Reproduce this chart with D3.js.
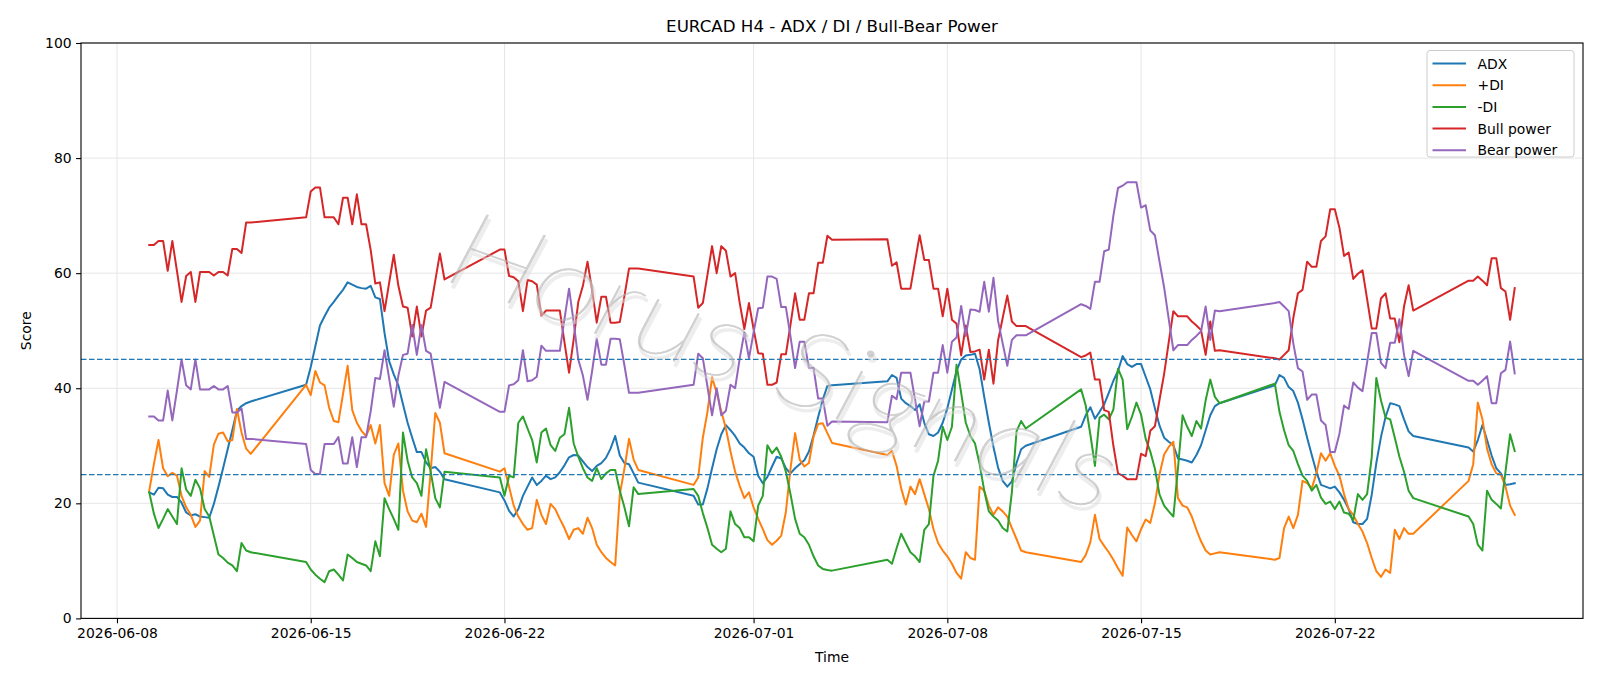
<!DOCTYPE html>
<html>
<head>
<meta charset="utf-8">
<script src="https://cdn.jsdelivr.net/npm/d3@7"></script>
<style>
  html, body { margin: 0; padding: 0; background: #ffffff; }
  svg { display: block; font-family: "DejaVu Sans", sans-serif; }
</style>
</head>
<body>
<svg id="chart" width="1600" height="686"></svg>
<script>
// ---------------- DATA ----------------
const title = "EURCAD H4 - ADX / DI / Bull-Bear Power";
const seriesNames = ["ADX", "+DI", "-DI", "Bull power", "Bear power"];
const xTickLabels = ["2026-06-08", "2026-06-15", "2026-06-22", "2026-07-01", "2026-07-08", "2026-07-15", "2026-07-22"];
const yTickLabels = [0, 20, 40, 60, 80, 100];
const thresholds = [25, 45];
const watermarkText = "Horus Signals";
const firstBar = "2026-06-09T04:00:00Z";
const lastBar = "2026-07-28T12:00:00Z";

const adx = [
  21.9, 21.5, 22.7, 22.6, 21.5, 21.1, 21.1, 20.1, 18.4, 17.9, 18.1, 17.7, 17.6, 17.5, 19.9, 22.9, 26.1, 29.4, 32.7, 36.1, 36.9, 37.4, 37.7,
  40.6, 43.7, 47.3, 50.9, 52.5, 54.0, 55.0, 56.1, 57.1, 58.4, 58.0, 57.6, 57.4, 57.3, 57.8, 55.8, 55.5, 49.6, 44.7, 42.4, 40.5, 37.2, 34.0, 31.4, 28.9, 28.9, 27.1, 26.1, 26.3, 25.5, 24.2,
  21.9, 20.5, 18.7, 17.7, 19.0, 21.3, 22.9, 24.5, 23.2, 23.9, 24.8, 24.2, 24.5, 25.4, 26.6, 28.0, 28.4, 28.3, 27.3, 26.3, 25.6, 26.5, 27.0, 27.9, 29.5, 31.7, 28.3, 27.0, 26.8, 25.2, 23.6,
  21.3, 19.8, 19.8, 22.6, 26.1, 29.4, 32.0, 33.6, 32.7, 31.7, 30.4, 29.7, 28.7, 28.1, 24.8, 23.5, 24.6, 26.4, 28.1, 27.8, 26.1, 25.2, 26.1, 26.8, 27.5, 29.0, 31.8, 35.0, 38.0, 40.4, 40.5,
  41.2, 42.3, 41.8, 38.2, 37.4, 36.9, 36.2, 37.2, 34.0, 32.0, 31.7, 32.3, 34.0, 36.5, 39.8, 43.0, 45.0, 45.7, 45.8, 46.0, 43.3, 38.5, 34.0, 29.8, 26.2, 23.9, 22.9, 23.8, 27.0, 29.4, 30.0,
  33.3, 35.3, 36.7, 34.7, 35.9, 37.2, 39.2, 41.3, 43.0, 45.6, 44.2, 43.7, 44.2, 44.2, 42.0, 39.8, 36.5, 33.5, 31.4, 30.7, 30.1, 27.8, 27.6, 27.4, 27.1, 28.4, 30.1, 32.7, 35.3, 36.9, 37.4,
  40.5, 42.3, 41.8, 40.2, 39.5, 37.5, 34.6, 31.4, 28.4, 25.5, 23.2, 22.9, 22.6, 22.9, 21.9, 20.6, 19.0, 16.7, 16.4, 16.4, 17.3, 21.5, 27.0, 31.5, 35.0, 37.4, 37.2, 36.9, 34.6, 32.5, 31.7,
  29.7, 29.0, 31.0, 33.6, 31.0, 28.3, 26.1, 25.2, 23.2, 23.3, 23.5
];
const plusDI = [
  22.2, 26.8, 31.0, 26.1, 24.7, 25.3, 24.8, 21.3, 19.3, 18.0, 15.9, 17.0, 25.6, 24.6, 30.2, 32.1, 32.3, 30.8, 31.0, 36.4, 32.3, 29.5, 28.6,
  40.6, 38.8, 43.0, 41.0, 40.5, 36.6, 34.3, 34.1, 39.0, 43.9, 36.2, 34.0, 32.6, 31.7, 33.6, 30.4, 33.6, 23.5, 21.3, 28.4, 30.4, 22.2, 18.6, 17.0, 16.7, 18.2, 15.9, 25.5, 35.7, 34.0, 28.7,
  25.5, 26.1, 22.9, 19.6, 17.7, 16.4, 15.4, 15.7, 20.6, 18.0, 16.4, 19.9, 19.0, 17.3, 15.7, 13.8, 15.4, 15.7, 14.7, 17.5, 15.7, 12.8, 11.5, 10.5, 9.8, 9.2, 21.5, 26.0, 31.2, 27.6, 25.8,
  23.2, 24.5, 31.4, 35.9, 41.9, 39.2, 36.0, 33.0, 29.0, 25.5, 23.0, 20.9, 21.9, 19.3, 17.3, 15.5, 13.6, 12.8, 13.5, 14.4, 18.5, 26.0, 32.2, 27.6, 26.4, 27.0, 31.6, 33.8, 33.9, 32.2, 30.5,
  28.4, 29.1, 26.5, 22.6, 19.8, 22.9, 21.6, 24.2, 21.6, 19.0, 15.5, 13.1, 11.8, 10.8, 9.5, 7.9, 6.9, 11.5, 10.5, 10.2, 22.9, 22.2, 19.6, 18.0, 19.3, 18.6, 17.7, 15.7, 13.8, 11.8, 11.5,
  9.8, 11.0, 13.2, 18.0, 13.8, 12.6, 11.5, 10.2, 8.7, 7.4, 15.8, 14.5, 13.4, 15.5, 17.2, 16.6, 20.0, 25.0, 28.5, 29.8, 30.7, 20.9, 19.6, 19.3, 17.7, 15.4, 13.4, 11.8, 11.1, 11.3, 11.5,
  10.2, 10.5, 15.7, 17.7, 15.7, 18.0, 23.9, 23.5, 22.6, 25.2, 28.7, 27.4, 28.7, 26.5, 24.8, 21.6, 19.0, 18.0, 16.4, 15.1, 13.1, 10.5, 8.2, 7.2, 8.5, 7.9, 15.4, 13.8, 15.7, 14.7, 14.7,
  23.9, 26.8, 37.5, 34.6, 29.5, 26.8, 25.2, 25.0, 22.9, 19.6, 18.0
];
const minusDI = [
  21.9, 18.2, 15.7, 17.3, 19.0, 17.7, 16.4, 26.1, 22.4, 21.3, 24.1, 22.6, 19.0, 17.7, 14.4, 11.1, 10.5, 9.7, 9.2, 8.2, 13.1, 11.8, 11.5,
  9.8, 8.5, 7.6, 6.9, 6.3, 8.2, 8.5, 7.6, 6.6, 11.1, 10.5, 9.8, 9.5, 9.2, 8.2, 13.4, 10.8, 20.9, 19.0, 17.3, 15.4, 32.3, 27.4, 24.5, 23.5, 21.3, 29.4, 25.5, 20.9, 19.3, 25.5,
  24.5, 21.3, 24.8, 24.5, 34.0, 35.1, 33.0, 31.0, 27.1, 32.3, 33.0, 30.1, 29.1, 31.4, 32.0, 36.6, 30.4, 28.1, 26.1, 24.5, 23.9, 26.1, 24.2, 25.2, 25.8, 25.8, 22.2, 19.3, 16.0, 22.8, 21.6,
  22.5, 21.3, 18.3, 15.7, 12.8, 12.1, 11.5, 12.1, 18.6, 16.4, 15.7, 14.1, 14.1, 13.4, 19.6, 21.3, 30.1, 28.7, 29.7, 28.1, 25.5, 21.6, 17.3, 14.7, 14.1, 12.8, 10.8, 9.2, 8.6, 8.4, 8.3,
  10.2, 9.5, 12.2, 14.7, 13.1, 11.5, 10.8, 9.8, 15.4, 16.4, 24.8, 27.4, 33.3, 31.0, 33.3, 44.1, 39.2, 34.0, 31.7, 30.4, 26.8, 22.2, 18.6, 17.7, 17.0, 15.7, 15.1, 22.0, 32.5, 34.3, 33.0,
  39.8, 37.0, 32.0, 26.5, 34.9, 35.4, 34.6, 36.3, 43.4, 41.5, 32.9, 35.0, 37.5, 35.4, 31.2, 29.0, 26.0, 21.5, 19.6, 18.6, 17.7, 26.1, 35.3, 33.3, 31.7, 34.3, 33.0, 37.9, 41.5, 38.5, 37.4,
  40.8, 35.9, 32.7, 30.1, 29.1, 26.8, 24.8, 23.9, 22.2, 23.2, 21.0, 19.9, 20.3, 19.0, 20.3, 18.4, 18.2, 17.1, 21.6, 20.6, 21.6, 28.0, 41.8, 37.9, 34.9, 34.6, 31.4, 28.1, 25.5, 22.2, 20.9,
  17.7, 16.4, 12.8, 11.8, 22.2, 20.6, 19.9, 19.1, 25.5, 32.0, 29.1
];
const bullPower = [
  64.9, 64.9, 65.6, 65.6, 60.4, 65.6, 60.4, 55.0, 59.5, 60.2, 55.0, 60.2, 60.2, 60.2, 59.6, 60.2, 60.2, 59.6, 64.2, 64.2, 63.5, 68.8, 68.8,
  69.7, 74.2, 74.9, 74.9, 69.7, 69.7, 69.7, 68.5, 73.1, 73.1, 68.5, 73.7, 68.5, 68.5, 64.0, 58.2, 58.4, 53.4, 58.3, 63.2, 57.8, 54.2, 54.0, 49.0, 54.2, 49.0, 53.5, 54.0, 58.7, 63.4, 58.9,
  64.1, 64.1, 59.5, 59.3, 58.6, 53.4, 58.8, 58.6, 58.0, 52.6, 53.5, 53.5, 53.5, 53.5, 48.0, 42.7, 48.5, 55.0, 57.8, 62.0, 57.0, 51.4, 55.9, 55.9, 51.4, 51.4, 51.5, 56.0, 60.8, 60.8, 60.8,
  59.4, 54.0, 54.8, 59.7, 64.7, 60.0, 64.7, 63.9, 59.4, 60.0, 54.8, 50.3, 54.8, 50.3, 46.1, 46.0, 40.6, 40.6, 41.0, 45.9, 45.9, 51.0, 56.5, 51.9, 51.9, 56.5, 56.5, 61.8, 61.8, 66.5, 65.8,
  65.9, 61.3, 61.9, 57.3, 57.3, 57.3, 62.0, 66.6, 62.3, 62.3, 57.3, 57.3, 52.5, 57.3, 51.9, 51.2, 45.7, 50.9, 46.3, 46.4, 46.7, 41.5, 46.7, 40.8, 48.3, 52.2, 56.1, 51.6, 50.8, 50.8, 50.8,
  45.4, 45.7, 46.2, 41.5, 41.5, 36.2, 35.9, 30.0, 25.2, 24.8, 24.2, 24.2, 24.2, 28.6, 28.2, 32.6, 33.4, 38.0, 42.5, 48.0, 53.4, 52.5, 52.5, 52.5, 51.6, 50.9, 50.1, 45.8, 51.6, 46.5, 46.6,
  45.2, 45.0, 45.8, 46.6, 52.2, 56.5, 57.1, 62.0, 61.1, 61.1, 65.6, 66.4, 71.1, 71.1, 67.9, 63.0, 63.6, 59.0, 59.9, 60.5, 55.5, 50.4, 50.4, 55.6, 56.5, 52.1, 52.1, 48.0, 54.2, 57.9, 53.5,
  58.7, 58.7, 59.4, 58.7, 57.9, 62.6, 62.6, 57.4, 56.8, 51.9, 57.4
];
const bearPower = [
  35.1, 35.1, 34.4, 34.4, 39.6, 34.4, 39.6, 45.0, 40.5, 39.8, 45.0, 39.8, 39.8, 39.8, 40.4, 39.8, 39.8, 40.4, 35.8, 35.8, 36.5, 31.2, 31.2,
  30.3, 25.8, 25.1, 25.1, 30.3, 30.3, 30.3, 31.5, 26.9, 26.9, 31.5, 26.3, 31.5, 31.5, 36.0, 41.8, 41.6, 46.6, 41.7, 36.8, 42.2, 45.8, 46.0, 51.0, 45.8, 51.0, 46.5, 46.0, 41.3, 36.6, 41.1,
  35.9, 35.9, 40.5, 40.7, 41.4, 46.6, 41.2, 41.4, 42.0, 47.4, 46.5, 46.5, 46.5, 46.5, 52.0, 57.3, 51.5, 45.0, 42.2, 38.0, 43.0, 48.6, 44.1, 44.1, 48.6, 48.6, 48.5, 44.0, 39.2, 39.2, 39.2,
  40.6, 46.0, 45.2, 40.3, 35.3, 40.0, 35.3, 36.1, 40.6, 40.0, 45.2, 49.7, 45.2, 49.7, 53.9, 54.0, 59.4, 59.4, 59.0, 54.1, 54.1, 49.0, 43.5, 48.1, 48.1, 43.5, 43.5, 38.2, 38.2, 33.5, 34.2,
  34.1, 38.7, 38.1, 42.7, 42.7, 42.7, 38.0, 33.4, 37.7, 37.7, 42.7, 42.7, 47.5, 42.7, 48.1, 48.8, 54.3, 49.1, 53.7, 53.6, 53.3, 58.5, 53.3, 59.2, 51.7, 47.8, 43.9, 48.4, 49.2, 49.2, 49.2,
  54.6, 54.3, 53.8, 58.5, 58.5, 63.8, 64.1, 70.0, 74.8, 75.2, 75.8, 75.8, 75.8, 71.4, 71.8, 67.4, 66.6, 62.0, 57.5, 52.0, 46.6, 47.5, 47.5, 47.5, 48.4, 49.1, 49.9, 54.2, 48.4, 53.5, 53.4,
  54.8, 55.0, 54.2, 53.4, 47.8, 43.5, 42.9, 38.0, 38.9, 38.9, 34.4, 33.6, 28.9, 28.9, 32.1, 37.0, 36.4, 41.0, 40.1, 39.5, 44.5, 49.6, 49.6, 44.4, 43.5, 47.9, 47.9, 52.0, 45.8, 42.1, 46.5,
  41.3, 41.3, 40.6, 41.3, 42.1, 37.4, 37.4, 42.6, 43.2, 48.1, 42.6
];
const seriesColors = ["#1f77b4", "#ff7f0e", "#2ca02c", "#d62728", "#9467bd"];

// ---------------- TIME AXIS (H4 bars, FX market hours) ----------------
function h4Bars(startIso, endIso) {
  const out = [];
  const end = new Date(endIso);
  for (let t = new Date(startIso); t <= end; t = new Date(+t + 4 * 3600e3)) {
    const d = t.getUTCDay(), h = t.getUTCHours();
    const open = (d >= 1 && d <= 4) || (d === 5 && h <= 20) || (d === 0 && h >= 20);
    if (open) out.push(t);
  }
  return out;
}
const times = h4Bars(firstBar, lastBar);

// ---------------- LAYOUT ----------------
const W = 1600, H = 686;
const plot = { left: 81, right: 1583, top: 43, bottom: 618.4 };
const svg = d3.select("#chart");

const t0 = times[0], t1 = times[times.length - 1];
const pad = (t1 - t0) * 0.05;
const x = d3.scaleUtc().domain([new Date(+t0 - pad), new Date(+t1 + pad)]).range([plot.left, plot.right]);
const y = d3.scaleLinear().domain([0, 100]).range([plot.bottom, plot.top]);
const xTicks = xTickLabels.map(s => new Date(s + "T00:00:00Z"));

svg.append("rect").attr("width", W).attr("height", H).attr("fill", "#fff");

// grid
const grid = svg.append("g");
grid.selectAll("line.gx").data(xTicks).enter().append("line")
  .attr("x1", d => x(d)).attr("x2", d => x(d))
  .attr("y1", plot.top).attr("y2", plot.bottom)
  .attr("stroke", "#e6e6e6").attr("stroke-width", 1);
grid.selectAll("line.gy").data(yTickLabels).enter().append("line")
  .attr("x1", plot.left).attr("x2", plot.right)
  .attr("y1", d => y(d)).attr("y2", d => y(d))
  .attr("stroke", "#e6e6e6").attr("stroke-width", 1);

svg.append("clipPath").attr("id", "clip").append("rect")
  .attr("x", plot.left).attr("y", plot.top)
  .attr("width", plot.right - plot.left).attr("height", plot.bottom - plot.top);

// series lines
const allSeries = [adx, plusDI, minusDI, bullPower, bearPower];
const lineGen = d3.line().x(d => x(d.t)).y(d => y(d.v));
const lines = svg.append("g").attr("clip-path", "url(#clip)");
allSeries.forEach((vals, i) => {
  const n = Math.min(vals.length, times.length);
  const pts = d3.range(n).map(k => ({ t: times[k], v: vals[k] }));
  lines.append("path").datum(pts)
    .attr("d", lineGen)
    .attr("fill", "none")
    .attr("stroke", seriesColors[i])
    .attr("stroke-width", 2)
    .attr("stroke-linejoin", "round")
    .attr("stroke-linecap", "square");
});

lines.selectAll("line.th").data(thresholds).enter().append("line")
  .attr("x1", plot.left).attr("x2", plot.right)
  .attr("y1", d => y(d)).attr("y2", d => y(d))
  .attr("stroke", "#1f77b4").attr("stroke-width", 1.3)
  .attr("stroke-dasharray", "5.5,2.5");

// watermark: thin italic text with a soft offset shadow
const wmOuter = svg.append("g").attr("clip-path", "url(#clip)");
const wm = wmOuter.append("g").attr("transform", "translate(772,396) rotate(19.5)");
const wmFont = "Lato, Roboto, 'Noto Sans', 'DejaVu Sans', sans-serif";
function wmText(dx, dy, color, op, sw) {
  wm.append("text")
    .attr("x", dx).attr("y", dy)
    .attr("text-anchor", "middle")
    .attr("font-family", wmFont)
    .attr("font-style", "italic").attr("font-weight", 100)
    .attr("font-size", 108)
    .attr("textLength", 700).attr("lengthAdjust", "spacingAndGlyphs")
    .attr("fill", color).attr("stroke", color).attr("stroke-width", sw)
    .attr("stroke-linejoin", "round")
    .attr("opacity", op)
    .text(watermarkText);
}
wmText(3, 4, "#dcdcdc", 0.5, 2.2);
wmText(0, 0, "#b2b2b2", 0.6, 0.8);

// axes
const xAxis = d3.axisBottom(x).tickValues(xTicks).tickFormat(d3.utcFormat("%Y-%m-%d"))
  .tickSize(4.9).tickPadding(4.5);
const gx = svg.append("g").attr("transform", `translate(0,${plot.bottom})`).call(xAxis);
gx.select(".domain").remove();
gx.selectAll("line").attr("stroke", "#000").attr("stroke-width", 1.1);
gx.selectAll("text").attr("font-size", 13.9).attr("fill", "#000")
  .attr("font-family", "'DejaVu Sans', sans-serif");

const yAxis = d3.axisLeft(y).tickValues(yTickLabels).tickFormat(d3.format("d"))
  .tickSize(4.9).tickPadding(4.5);
const gy = svg.append("g").attr("transform", `translate(${plot.left},0)`).call(yAxis);
gy.select(".domain").remove();
gy.selectAll("line").attr("stroke", "#000").attr("stroke-width", 1.1);
gy.selectAll("text").attr("font-size", 13.9).attr("fill", "#000")
  .attr("font-family", "'DejaVu Sans', sans-serif");

svg.append("rect")
  .attr("x", plot.left).attr("y", plot.top)
  .attr("width", plot.right - plot.left).attr("height", plot.bottom - plot.top)
  .attr("fill", "none").attr("stroke", "#000").attr("stroke-width", 1.1);

svg.append("text").attr("x", (plot.left + plot.right) / 2).attr("y", 31.5)
  .attr("text-anchor", "middle").attr("font-size", 16.7).attr("fill", "#000")
  .text(title);
svg.append("text").attr("x", (plot.left + plot.right) / 2).attr("y", 661.5)
  .attr("text-anchor", "middle").attr("font-size", 13.9).attr("fill", "#000")
  .text("Time");
svg.append("text")
  .attr("transform", `translate(30.5,${(plot.top + plot.bottom) / 2}) rotate(-90)`)
  .attr("text-anchor", "middle").attr("font-size", 13.9).attr("fill", "#000")
  .text("Score");

// legend
const lg = svg.append("g");
lg.append("rect").attr("x", 1427).attr("y", 50.5).attr("width", 147).attr("height", 106.5)
  .attr("rx", 3).attr("fill", "#fff").attr("fill-opacity", 0.8)
  .attr("stroke", "#cccccc").attr("stroke-width", 1);
seriesNames.forEach((name, i) => {
  const yy = 63.5 + i * 21.7;
  lg.append("line").attr("x1", 1432.5).attr("x2", 1466).attr("y1", yy).attr("y2", yy)
    .attr("stroke", seriesColors[i]).attr("stroke-width", 2);
  lg.append("text").attr("x", 1477.5).attr("y", yy + 5).attr("font-size", 13.9)
    .attr("fill", "#000").text(name);
});
</script>
</body>
</html>
